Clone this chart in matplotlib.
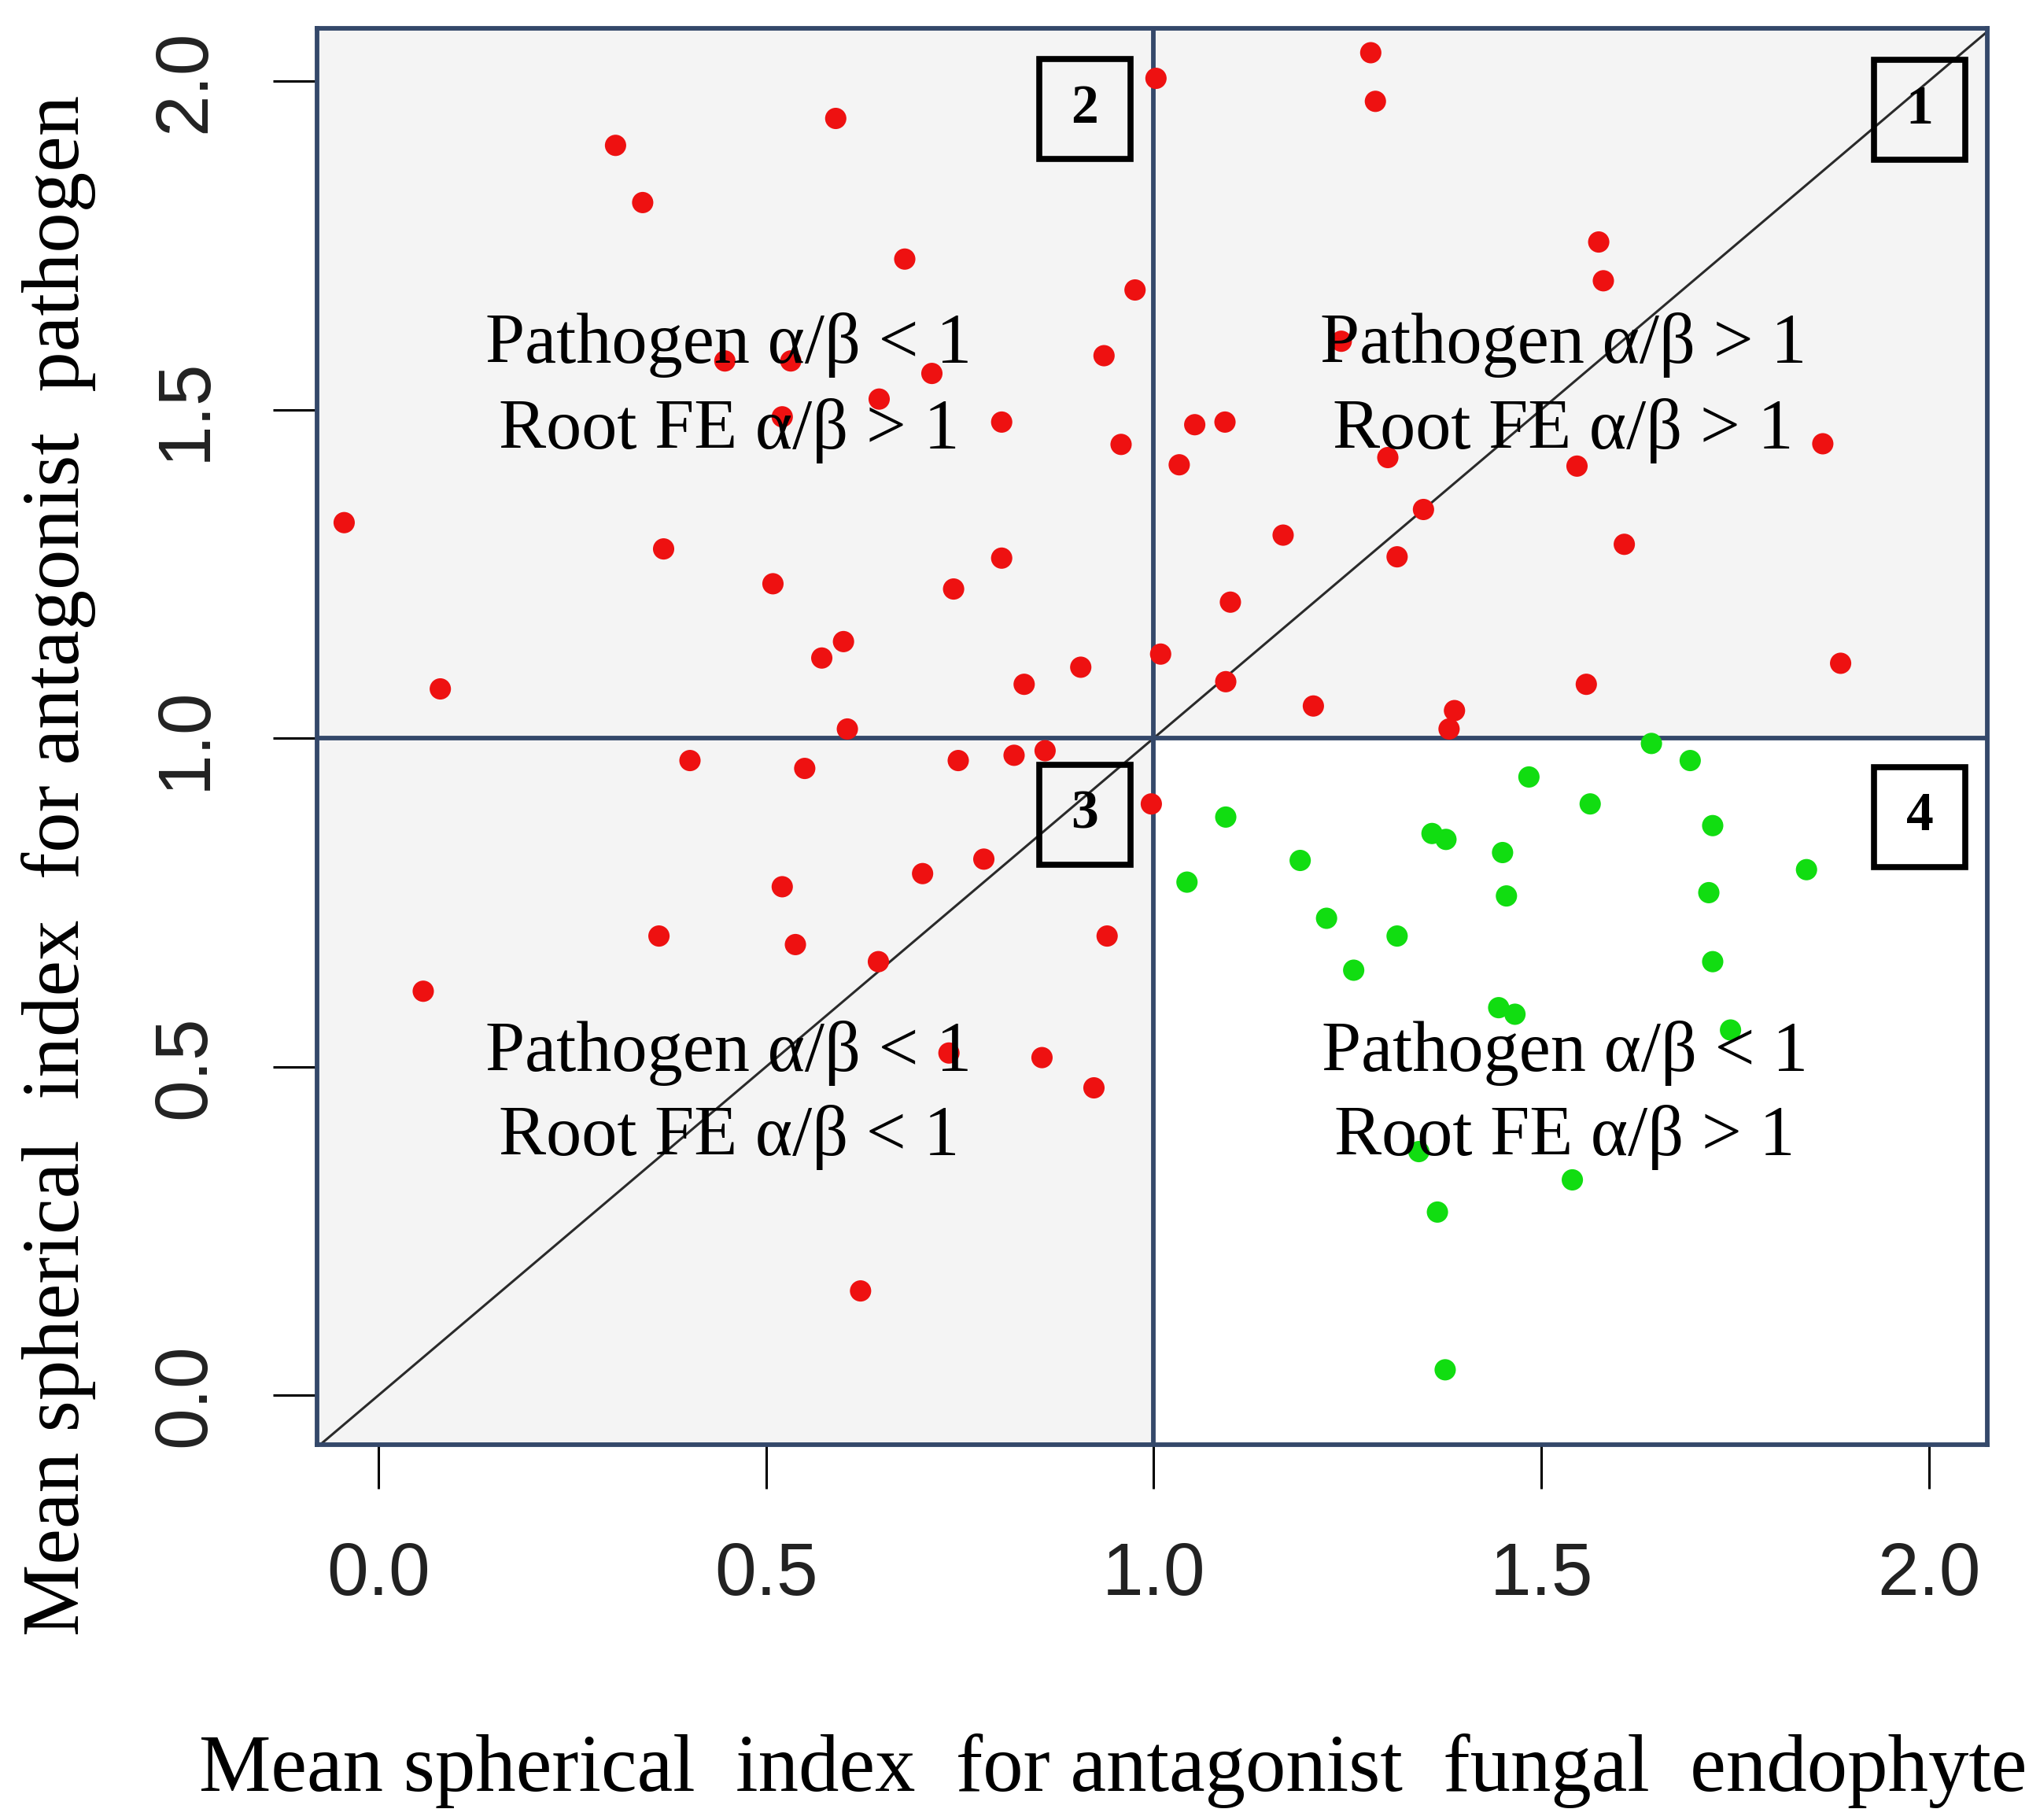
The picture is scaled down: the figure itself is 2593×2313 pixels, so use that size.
import matplotlib
matplotlib.use("Agg")
import matplotlib.pyplot as plt
from matplotlib.patches import Rectangle

# ── data ─────────────────────────────────────────────────────
red_x = [0.590, 0.306, 0.341, 0.679, 0.976, 1.003, 0.447, 0.532, 0.714, 0.936,
         0.646, 0.521, 0.804, 0.958, 1.033, -0.044, 0.368, 0.804, 0.509, 0.742,
         0.600, 0.572, 1.009, 0.906, 0.080, 0.833, 0.605, 1.280, 1.286, 1.574,
         1.580, 1.242, 1.053, 1.092, 1.302, 1.546, 1.863, 1.348, 1.167, 1.314,
         1.607, 1.099, 1.093, 1.206, 1.558, 1.886, 1.388, 1.381, 0.402, 0.550,
         0.748, 0.820, 0.860, 0.997, 0.781, 0.702, 0.521, 0.362, 0.538, 0.645,
         0.940, 0.058, 0.736, 0.856, 0.923, 0.622]
red_y = [1.943, 1.902, 1.815, 1.729, 1.682, 2.004, 1.574, 1.574, 1.555, 1.582,
         1.516, 1.489, 1.481, 1.447, 1.416, 1.328, 1.288, 1.274, 1.235, 1.227,
         1.147, 1.122, 1.128, 1.108, 1.075, 1.082, 1.014, 2.043, 1.969, 1.755,
         1.696, 1.604, 1.477, 1.481, 1.427, 1.414, 1.448, 1.348, 1.309, 1.276,
         1.295, 1.207, 1.086, 1.049, 1.082, 1.114, 1.042, 1.014, 0.966, 0.954,
         0.966, 0.974, 0.981, 0.900, 0.816, 0.794, 0.774, 0.699, 0.686, 0.660,
         0.699, 0.615, 0.521, 0.514, 0.468, 0.159]

green_x = [1.642, 1.692, 1.484, 1.563, 1.093, 1.721, 1.359, 1.377, 1.450, 1.189,
           1.043, 1.842, 1.455, 1.716, 1.223, 1.314, 1.258, 1.721, 1.445, 1.466,
           1.744, 1.342, 1.540, 1.366, 1.376]
green_y = [0.992, 0.966, 0.941, 0.900, 0.880, 0.867, 0.855, 0.846, 0.826, 0.814,
           0.781, 0.800, 0.760, 0.765, 0.726, 0.699, 0.647, 0.660, 0.590, 0.580,
           0.556, 0.371, 0.328, 0.279, 0.039]

threshold = 1.0
ticks = [0.0, 0.5, 1.0, 1.5, 2.0]
tick_labels = ["0.0", "0.5", "1.0", "1.5", "2.0"]

quad_text = [
    (0.452, "Pathogen α/β < 1", "Root FE α/β > 1", 1.598, 1.468),
    (1.528, "Pathogen α/β > 1", "Root FE α/β > 1", 1.598, 1.468),
    (0.452, "Pathogen α/β < 1", "Root FE α/β < 1", 0.521, 0.392),
    (1.530, "Pathogen α/β < 1", "Root FE α/β > 1", 0.521, 0.392),
]
quad_num = [("1", 1.988, 1.956), ("2", 0.911, 1.957),
            ("3", 0.911, 0.884), ("4", 1.988, 0.880)]

SERIF = ["Liberation Serif", "DejaVu Serif"]
SANS = ["Liberation Sans Narrow", "Liberation Sans", "DejaVu Sans"]
FRAME = "#34486a"

fig = plt.figure(figsize=(25.93, 23.13), dpi=100)
ax = fig.add_axes([0.1554, 0.2062, 0.8187, 0.7782])
xlim = (-0.079, 2.075)
ylim = (-0.075, 2.080)
ax.set_xlim(*xlim)
ax.set_ylim(*ylim)

# quadrant shading: grey everywhere, white for quadrant 4
ax.set_facecolor("#f4f4f4")
ax.add_patch(Rectangle((threshold, ylim[0]), xlim[1] - threshold, threshold - ylim[0],
                       facecolor="white", edgecolor="none", zorder=0))

ax.axline((0, 0), slope=1, color="#2a2a2a", lw=2.2, zorder=1)
ax.axvline(threshold, color=FRAME, lw=4.2, zorder=2)
ax.axhline(threshold, color=FRAME, lw=4.2, zorder=2)

ax.scatter(red_x, red_y, s=380, color="#ee1111", edgecolors="none", zorder=3)
ax.scatter(green_x, green_y, s=380, color="#11dd11", edgecolors="none", zorder=3)

for x, l1, l2, y1, y2 in quad_text:
    ax.text(x, y1, l1, ha="center", va="center", fontsize=65, family=SERIF, zorder=4)
    ax.text(x, y2, l2, ha="center", va="center", fontsize=65, family=SERIF, zorder=4)

bw, bh = 0.118, 0.152
for lab, x, y in quad_num:
    ax.add_patch(Rectangle((x - bw / 2, y - bh / 2), bw, bh, facecolor="none",
                           edgecolor="black", lw=5.5, zorder=5))
    ax.text(x, y, lab, ha="center", va="center", fontsize=50, fontweight="bold",
            family=SERIF, zorder=5)

for sp in ax.spines.values():
    sp.set_color(FRAME)
    sp.set_linewidth(4.2)

ax.set_xticks(ticks)
ax.set_yticks(ticks)
ax.set_xticklabels(tick_labels, fontsize=68, family=SANS, color="#222222")
ax.set_yticklabels(tick_labels, fontsize=68, family=SANS, color="#222222",
                   rotation=90, va="center")
ax.tick_params(axis="both", direction="out", length=40, width=2.2, color="black", pad=48)

ax.set_xlabel("Mean spherical  index  for antagonist  fungal  endophyte",
              fontsize=74, family=SERIF)
ax.set_ylabel("Mean spherical  index  for antagonist  pathogen",
              fontsize=74, family=SERIF)
ax.xaxis.set_label_coords(0.4767, -0.23)
ax.xaxis.label.set_va("center")
ax.yaxis.set_label_coords(-0.1545, 0.409)
ax.yaxis.label.set_va("center")

fig.savefig("out.png", dpi=100)
